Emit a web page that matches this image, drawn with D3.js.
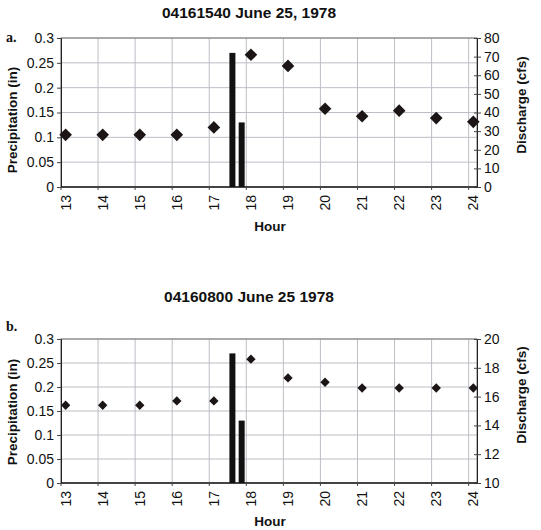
<!DOCTYPE html>
<html><head><meta charset="utf-8">
<script src="https://cdn.jsdelivr.net/npm/d3@7"></script>
<style>body{margin:0;background:#fff}svg{display:block}</style>
</head><body><svg id="c" width="541" height="530"></svg>
<script>
const hours = [13,14,15,16,17,18,19,20,21,22,23,24];
const dischargeA = [28,28,28,28,32,71,65,42,38,41,37,35];
const dischargeB = [15.4,15.4,15.4,15.7,15.7,18.6,17.3,17.0,16.6,16.6,16.6,16.6];
const precipHours = [17.5, 17.75];
const precipA = [0.27, 0.13];
const precipB = [0.27, 0.13];
const precipTicks = [0,0.05,0.1,0.15,0.2,0.25,0.3];
const dischargeTicksA = [0,10,20,30,40,50,60,70,80];
const dischargeTicksB = [10,12,14,16,18,20];
const titleA = "04161540 June 25, 1978";
const titleB = "04160800 June 25 1978";

const svg = d3.select("#c");
const FONT = "Liberation Sans, Arial, sans-serif";
const gridOffset = 0.125;
const x = d3.scaleLinear().domain([13 - gridOffset, 24.1]).range([61, 477]);

function panel(cfg){
  const g = svg.append("g");
  const y = d3.scaleLinear().domain([0, 0.3]).range([cfg.bottom, cfg.top]);
  const y2 = d3.scaleLinear().domain(cfg.dDomain).range([cfg.bottom, cfg.top]);
  g.append("text").attr("x", 249).attr("y", cfg.titleY).attr("text-anchor","middle")
    .attr("font-family", FONT).attr("font-weight","bold").attr("font-size", 15.5).attr("fill","#111").text(cfg.title);
  g.append("text").attr("x", 6).attr("y", cfg.letterY)
    .attr("font-family","Liberation Serif, Times New Roman, serif").attr("font-weight","bold").attr("font-size", 14).attr("fill","#111").text(cfg.letter);
  g.append("g").selectAll("line").data(precipTicks).join("line")
    .attr("x1", x.range()[0]).attr("x2", x.range()[1])
    .attr("y1", d=>y(d)).attr("y2", d=>y(d))
    .attr("stroke", "#bdbdc6").attr("stroke-width", 1);
  g.append("g").selectAll("line").data(hours).join("line")
    .attr("x1", d=>x(d - gridOffset)).attr("x2", d=>x(d - gridOffset))
    .attr("y1", cfg.top).attr("y2", cfg.bottom)
    .attr("stroke", "#bdbdc6").attr("stroke-width", 1);
  g.append("rect").attr("x", x.range()[0]).attr("y", cfg.top)
    .attr("width", x.range()[1]-x.range()[0]).attr("height", cfg.bottom-cfg.top)
    .attr("fill","none").attr("stroke","#777").attr("stroke-width",1);
  const la = g.append("g").attr("transform", `translate(${x.range()[0]},0)`)
    .call(d3.axisLeft(y).tickValues(precipTicks).tickFormat(d=>d3.format("")(+d.toFixed(2))).tickSize(4).tickPadding(3));
  la.select(".domain").attr("stroke","#222");
  la.selectAll(".tick line").attr("stroke","#444");
  la.selectAll("text").attr("font-family", FONT).attr("font-size", 14).attr("fill","#111");
  const ra = g.append("g").attr("transform", `translate(${x.range()[1]},0)`)
    .call(d3.axisRight(y2).tickValues(cfg.dTicks).tickSize(4).tickPadding(3));
  ra.select(".domain").attr("stroke","#222");
  ra.selectAll(".tick line").attr("stroke","#444").attr("x1", -3);
  ra.selectAll("text").attr("font-family", FONT).attr("font-size", 14).attr("fill","#111");
  g.append("line").attr("x1", x.range()[0]).attr("x2", x.range()[1])
    .attr("y1", cfg.bottom).attr("y2", cfg.bottom).attr("stroke","#222").attr("stroke-width",1.5);
  g.append("g").selectAll("line").data(hours).join("line")
    .attr("x1", d=>x(d - gridOffset)).attr("x2", d=>x(d - gridOffset))
    .attr("y1", cfg.bottom).attr("y2", cfg.bottom+3).attr("stroke","#444");
  g.append("g").selectAll("text").data(hours).join("text")
    .attr("transform", d=>`translate(${x(d)},${cfg.bottom+8}) rotate(-90)`)
    .attr("text-anchor","end").attr("dy","0.35em")
    .attr("font-family", FONT).attr("font-size", 14).attr("fill","#111").text(d=>d);
  const bw = 6;
  g.append("g").selectAll("rect").data(precipHours.map((h,i)=>({h, v: cfg.precip[i]}))).join("rect")
    .attr("x", d=>x(d.h)-bw/2).attr("width", bw)
    .attr("y", d=>y(d.v)).attr("height", d=>cfg.bottom - y(d.v))
    .attr("fill","#111");
  const sym = d3.symbol().type(d3.symbolSquare).size(cfg.symSize);
  g.append("g").selectAll("path").data(hours.map((h,i)=>({h, v: cfg.discharge[i]}))).join("path")
    .attr("d", sym)
    .attr("transform", d=>`translate(${x(d.h)},${y2(d.v)}) rotate(45)`)
    .attr("fill","#1c1515");
  g.append("text").attr("transform", `translate(17,${cfg.leftTitleY}) rotate(-90)`)
    .attr("text-anchor","middle").attr("font-family", FONT).attr("font-weight","bold").attr("font-size", 13.5).attr("fill","#111")
    .text("Precipitation (in)");
  g.append("text").attr("transform", `translate(526,${cfg.rightTitleY}) rotate(-90)`)
    .attr("text-anchor","middle").attr("font-family", FONT).attr("font-weight","bold").attr("font-size", 13.5).attr("fill","#111")
    .text("Discharge (cfs)");
  g.append("text").attr("x", 270).attr("y", cfg.hourY).attr("text-anchor","middle")
    .attr("font-family", FONT).attr("font-weight","bold").attr("font-size", 13.5).attr("fill","#111").text("Hour");
}

panel({top:38, bottom:187, title:titleA, titleY:18, letter:"a.", letterY:42,
  discharge:dischargeA, dTicks:dischargeTicksA, dDomain:[0,80], precip:precipA, symSize:80,
  leftTitleY:120, rightTitleY:105, hourY:231});
panel({top:339, bottom:483, title:titleB, titleY:302, letter:"b.", letterY:331,
  discharge:dischargeB, dTicks:dischargeTicksB, dDomain:[10,20], precip:precipB, symSize:44,
  leftTitleY:412, rightTitleY:395, hourY:526});
</script></body></html>
